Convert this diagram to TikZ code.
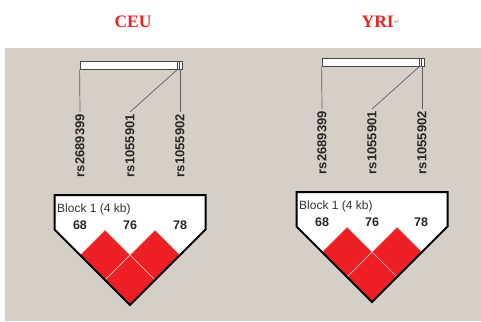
\documentclass[tikz,border=0pt]{standalone}
\usepackage{fontspec}
\setmainfont{Liberation Sans}
\newfontfamily\titlefont{Liberation Serif}
\newfontfamily\symfont{DejaVu Sans}
\definecolor{panelgray}{RGB}{212,208,200}
\definecolor{titlered}{RGB}{236,36,36}
\definecolor{cellred}{RGB}{237,30,36}
\definecolor{cellline}{RGB}{232,196,184}
\definecolor{bargray}{RGB}{70,70,70}
\definecolor{wiregray}{RGB}{96,96,96}

\begin{document}
\begin{tikzpicture}[x=1pt,y=-1pt,
  pop title/.style={font=\titlefont\bfseries\fontsize{17.5}{20}\selectfont,text=titlered,inner sep=0},
  snp bar/.style={draw=bargray,fill=white,line width=0.8pt,inner sep=0,minimum width=102pt,minimum height=8pt},
  bar tick/.style={draw=bargray,line width=0.6pt},
  wire/.style={draw=wiregray,line width=0.7pt},
  snp label/.style={rotate=90,anchor=east,inner sep=2pt,text=black!85,font=\bfseries\fontsize{13}{15}\selectfont},
  block/.style={draw=black,fill=white,line width=2pt,line join=miter},
  ldcell/.style={fill=cellred,draw=cellline,line width=0.7pt},
  ld value/.style={inner sep=0,text=black!85,font=\bfseries\fontsize{12.5}{14}\selectfont},
  block name/.style={anchor=west,inner sep=0,text=black!80,font=\fontsize{12}{14}\selectfont}]
  \useasboundingbox (0,0) rectangle (481,321);
  \fill[white] (0,0) rectangle (481,321);
  \fill[panelgray] (5,48) rectangle (481,321);
  % titles
  \node[pop title] (ceu) at (133,22) {CEU};
  \node[pop title,anchor=west] (yri) at (361.5,22) {YRI};
  \node[anchor=west,inner sep=0,text=black!45,font=\symfont\fontsize{7}{8}\selectfont] (yrimark) at (yri.east) {↵};
  % CEU markers
  \node[snp bar] (cbar) at (131,65) {};
  \path[bar tick] (177,61) -- (177,69);
  \path[bar tick] (179.5,61) -- (179.5,69);
  \coordinate (cm1) at (cbar.south west);
  \coordinate (cm2) at (178,69);
  \coordinate (cm3) at (180,69);
  \node[snp label] (clab1) at (80,112) {rs2689399};
  \node[snp label] (clab2) at (130,112) {rs1055901};
  \node[snp label] (clab3) at (180,112) {rs1055902};
  \path[wire] (cm1) -- (clab1.east);
  \path[wire] (cm2) -- (clab2.east);
  \path[wire] (cm3) -- (clab3.east);
  % CEU block
  \fill[white] (54.5,195) -- (205.5,195) -- (205.5,229.5) -- (130,305) -- (54.5,229.5) -- cycle;
  \path[ldcell] (105,230) -- (130,255) -- (105,280) -- (80,255) -- cycle;
  \path[ldcell] (155,230) -- (180,255) -- (155,280) -- (130,255) -- cycle;
  \path[ldcell] (130,255) -- (155,280) -- (130,305) -- (105,280) -- cycle;
  \path[block,fill=none] (54.5,195) -- (205.5,195) -- (205.5,229.5) -- (130,305) -- (54.5,229.5) -- cycle;
  \node[block name] (cblock) at (57,209) {Block 1 (4 kb)};
  \node[ld value] (cv1) at (80,225) {68};
  \node[ld value] (cv2) at (130,225) {76};
  \node[ld value] (cv3) at (180,225) {78};
  % YRI markers
  \node[snp bar] (ybar) at (373,62) {};
  \path[bar tick] (419,58) -- (419,66);
  \path[bar tick] (421.5,58) -- (421.5,66);
  \coordinate (ym1) at (ybar.south west);
  \coordinate (ym2) at (420,66);
  \coordinate (ym3) at (422,66);
  \node[snp label] (ylab1) at (322,109) {rs2689399};
  \node[snp label] (ylab2) at (372,109) {rs1055901};
  \node[snp label] (ylab3) at (422,109) {rs1055902};
  \path[wire] (ym1) -- (ylab1.east);
  \path[wire] (ym2) -- (ylab2.east);
  \path[wire] (ym3) -- (ylab3.east);
  % YRI block
  \fill[white] (296.5,192) -- (447.5,192) -- (447.5,226.5) -- (372,302) -- (296.5,226.5) -- cycle;
  \path[ldcell] (347,227) -- (372,252) -- (347,277) -- (322,252) -- cycle;
  \path[ldcell] (397,227) -- (422,252) -- (397,277) -- (372,252) -- cycle;
  \path[ldcell] (372,252) -- (397,277) -- (372,302) -- (347,277) -- cycle;
  \path[block,fill=none] (296.5,192) -- (447.5,192) -- (447.5,226.5) -- (372,302) -- (296.5,226.5) -- cycle;
  \node[block name] (yblock) at (299,206) {Block 1 (4 kb)};
  \node[ld value] (yv1) at (322,222) {68};
  \node[ld value] (yv2) at (372,222) {76};
  \node[ld value] (yv3) at (421,222) {78};
\end{tikzpicture}
\end{document}
